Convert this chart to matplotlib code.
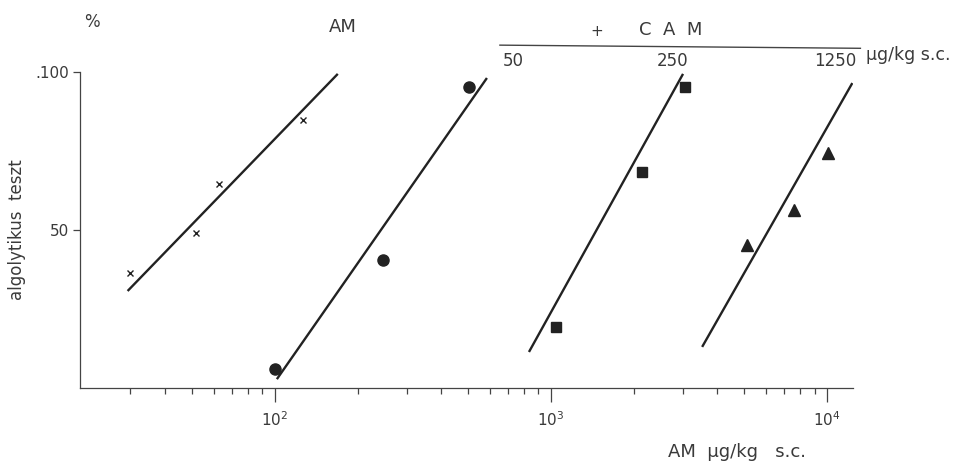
import matplotlib
matplotlib.use("Agg")
import matplotlib.pyplot as plt
import numpy as np
from matplotlib.ticker import FixedLocator, FixedFormatter, NullFormatter

# ---- data ----
am_x = [30, 52, 63, 126]
am_y = [36.4, 49.1, 64.6, 84.8]
am_line_x = [29.3, 169]
am_line_y = [30.7, 99.4]

c50_x = [100, 246, 505]
c50_y = [6.0, 40.5, 95.1]
c50_line_x = [101.7, 586]
c50_line_y = [2.8, 98.1]

c250_x = [1040, 2140, 3060]
c250_y = [19.4, 68.4, 95.3]
c250_line_x = [832, 3006]
c250_line_y = [11.4, 99.4]

c1250_x = [5130, 7590, 10080]
c1250_y = [45.1, 56.3, 74.4]
c1250_line_x = [3525, 12330]
c1250_line_y = [13.0, 96.5]

ytick_vals = [50, 100]
ytick_labels = ["50", ".100"]
xtick_vals = [100, 1000, 10000]
xtick_labels = [r"$10^2$", r"$10^3$", r"$10^4$"]
xminor_vals = [30, 40, 50, 60, 70, 80, 90,
               200, 300, 400, 500, 600, 700, 800, 900,
               2000, 3000, 4000, 5000, 6000, 7000, 8000, 9000]

cam_doses = ["50", "250", "1250"]
cam_label_x = [730, 2750, 10700]

ink = "#222222"
txt = "#3a3a3a"

plt.rcParams["font.family"] = ["DejaVu Sans"]
plt.rcParams["mathtext.fontset"] = "dejavusans"

fig = plt.figure(figsize=(9.62, 4.69), dpi=100)
fig.patch.set_facecolor("white")
ax = fig.add_axes([80/962, 1-388/469, (853-80)/962, (388-72)/469])
ax.set_xscale("log")
ax.set_xlim(19.7, 12400)
ax.set_ylim(0, 100)

lw = 1.7
for lx, ly in [(am_line_x, am_line_y), (c50_line_x, c50_line_y),
               (c250_line_x, c250_line_y), (c1250_line_x, c1250_line_y)]:
    ax.plot(lx, ly, color=ink, lw=lw, solid_capstyle="butt")

ax.plot(am_x, am_y, "x", color=ink, ms=5, mew=1.0, ls="none", clip_on=False)
ax.plot(c50_x, c50_y, "o", color=ink, ms=8, ls="none", clip_on=False)
ax.plot(c250_x, c250_y, "s", color=ink, ms=7, ls="none", clip_on=False)
ax.plot(c1250_x, c1250_y, "^", color=ink, ms=8, ls="none", clip_on=False)

for s in ["top", "right"]:
    ax.spines[s].set_visible(False)
for s in ["left", "bottom"]:
    ax.spines[s].set_linewidth(0.9)
    ax.spines[s].set_color("#444444")

ax.yaxis.set_major_locator(FixedLocator(ytick_vals))
ax.yaxis.set_major_formatter(FixedFormatter(ytick_labels))
ax.tick_params(axis="y", direction="out", length=5, width=0.9, colors="#444444",
               labelcolor=txt, labelsize=11, pad=3)

ax.xaxis.set_major_locator(FixedLocator(xtick_vals))
ax.xaxis.set_major_formatter(FixedFormatter(xtick_labels))
ax.xaxis.set_minor_locator(FixedLocator(xminor_vals))
ax.xaxis.set_minor_formatter(NullFormatter())
ax.tick_params(axis="x", which="major", direction="out", length=10, width=0.9,
               colors="#444444", labelcolor=txt, labelsize=11, pad=6)
ax.tick_params(axis="x", which="minor", direction="out", length=4, width=0.9,
               colors="#444444")

ax.set_ylabel("algolytikus  teszt", fontsize=12, color=txt)
ax.yaxis.set_label_coords(-54/773, 0.5)
ax.set_xlabel("AM  μg/kg   s.c.", fontsize=13, color=txt, x=0.85, labelpad=10)

# top annotations
fig.text(92/962, 1-22/469, "%", fontsize=12, color=txt, ha="center", va="center")
fig.text(343/962, 1-27/469, "AM", fontsize=13, color=txt, ha="center", va="center")
fig.text(597/962, 1-31/469, "+", fontsize=11, color=txt, ha="center", va="center")
fig.text(671/962, 1-30/469, "C  A  M", fontsize=13, color=txt, ha="center", va="center")

# CAM dose axis line above plot
ax.plot([653, 13190], [108.5, 107.5], color="#444444", lw=1.0, clip_on=False)
for lab, xv in zip(cam_doses, cam_label_x):
    ax.text(xv, 103.5, lab, fontsize=12, color=txt, ha="center", va="center", clip_on=False)
fig.text(866/962, 1-55/469, "μg/kg s.c.", fontsize=12.5, color=txt, ha="left", va="center")

fig.savefig("out.png", dpi=100, facecolor="white")
